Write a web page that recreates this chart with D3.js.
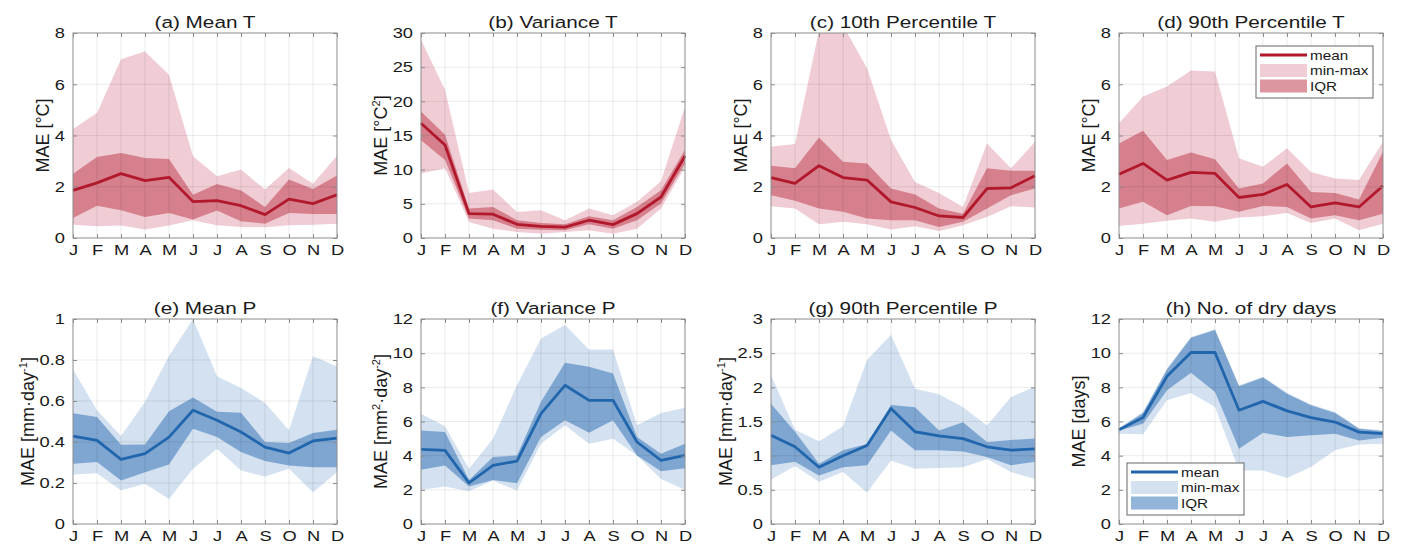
<!DOCTYPE html>
<html>
<head>
<meta charset="utf-8">
<script src="https://cdn.jsdelivr.net/npm/d3@7"></script>
<style>
body { margin: 0; background: #fff; }
text { font-family: "Liberation Sans", Arial, sans-serif; fill: #1a1a1a; }
</style>
</head>
<body>
<svg id="chart" width="1404" height="547"></svg>
<script>
var months = ["J", "F", "M", "A", "M", "J", "J", "A", "S", "O", "N", "D"];

// (a) Mean T
var aMean = [1.86, 2.15, 2.51, 2.24, 2.37, 1.42, 1.46, 1.26, 0.91, 1.52, 1.34, 1.69];
var aQ3 = [2.51, 3.16, 3.32, 3.12, 3.08, 1.69, 2.11, 1.85, 1.21, 2.28, 1.91, 2.44];
var aQ1 = [0.78, 1.26, 1.08, 0.82, 0.98, 0.72, 1.07, 0.65, 0.56, 0.98, 0.94, 0.94];
var aMax = [4.25, 4.88, 6.98, 7.28, 6.37, 3.19, 2.41, 2.67, 1.89, 2.73, 2.12, 3.21];
var aMin = [0.52, 0.46, 0.49, 0.33, 0.49, 0.69, 0.50, 0.43, 0.42, 0.50, 0.52, 0.56];

// (b) Variance T
var bMean = [16.8, 13.6, 3.57, 3.48, 2.0, 1.7, 1.6, 2.6, 1.96, 3.57, 6.0, 12.0];
var bQ3 = [18.5, 15.1, 4.3, 4.55, 2.6, 2.2, 2.0, 3.2, 2.6, 4.55, 7.0, 12.9];
var bQ1 = [14.3, 11.4, 2.84, 2.6, 1.37, 1.22, 1.13, 2.0, 1.37, 2.6, 5.04, 10.9];
var bMax = [29.0, 21.7, 6.6, 7.1, 3.8, 4.06, 2.6, 4.3, 3.33, 5.3, 8.3, 19.2];
var bMin = [9.45, 10.2, 2.35, 1.37, 0.88, 0.64, 0.88, 1.13, 0.64, 1.37, 4.3, 10.4];

// (c) 10th Percentile T
var cMean = [2.36, 2.13, 2.82, 2.36, 2.26, 1.41, 1.19, 0.86, 0.80, 1.93, 1.96, 2.43];
var cQ3 = [2.82, 2.72, 3.92, 2.98, 2.91, 1.93, 1.70, 1.15, 0.95, 2.72, 2.62, 2.62];
var cQ1 = [1.67, 1.45, 1.15, 1.02, 0.76, 0.69, 0.69, 0.43, 0.63, 1.15, 1.67, 1.93];
var cMax = [3.56, 3.67, 8.1, 8.3, 6.63, 3.82, 2.19, 1.76, 1.21, 3.69, 2.72, 3.76];
var cMin = [1.24, 1.15, 0.54, 0.63, 0.54, 0.33, 0.46, 0.27, 0.50, 0.82, 1.24, 1.19];

// (d) 90th Percentile T
var dMean = [2.49, 2.91, 2.26, 2.56, 2.52, 1.58, 1.70, 2.09, 1.21, 1.37, 1.21, 2.04];
var dQ3 = [3.69, 4.19, 3.04, 3.34, 3.07, 1.93, 2.13, 2.91, 1.80, 1.76, 1.50, 3.37];
var dQ1 = [1.15, 1.41, 0.89, 1.25, 1.24, 1.02, 1.25, 1.21, 0.76, 0.89, 0.69, 0.95];
var dMax = [4.48, 5.52, 5.91, 6.54, 6.50, 3.11, 2.78, 3.50, 2.58, 2.32, 2.26, 3.76];
var dMin = [0.47, 0.56, 0.67, 0.76, 0.63, 0.80, 0.85, 0.98, 0.59, 0.76, 0.30, 0.56];

// (e) Mean P
var eMean = [0.429, 0.408, 0.315, 0.343, 0.424, 0.555, 0.506, 0.449, 0.375, 0.346, 0.405, 0.419];
var eQ3 = [0.54, 0.522, 0.387, 0.388, 0.55, 0.617, 0.547, 0.543, 0.40, 0.395, 0.444, 0.46];
var eQ1 = [0.294, 0.302, 0.212, 0.253, 0.29, 0.465, 0.424, 0.351, 0.307, 0.285, 0.277, 0.277];
var eMax = [0.754, 0.555, 0.429, 0.595, 0.819, 1.0, 0.721, 0.664, 0.59, 0.457, 0.819, 0.767];
var eMin = [0.241, 0.248, 0.163, 0.196, 0.122, 0.269, 0.367, 0.261, 0.232, 0.269, 0.155, 0.253];

// (f) Variance P
var fMean = [4.37, 4.31, 2.41, 3.43, 3.68, 6.46, 8.12, 7.24, 7.24, 4.8, 3.72, 4.01];
var fQ3 = [5.48, 5.38, 2.58, 3.92, 4.01, 7.15, 9.44, 9.2, 8.81, 5.09, 4.11, 4.70];
var fQ1 = [3.17, 3.43, 2.19, 2.58, 2.39, 5.09, 6.07, 5.34, 6.07, 4.01, 3.09, 3.27];
var fMax = [6.46, 5.72, 3.23, 4.99, 8.12, 10.86, 11.65, 10.22, 10.22, 5.78, 6.5, 6.81];
var fMin = [2.0, 2.19, 1.92, 2.54, 1.96, 4.70, 5.78, 4.70, 4.99, 4.01, 2.64, 2.0];

// (g) 90th Percentile P
var gMean = [1.30, 1.13, 0.83, 1.0, 1.15, 1.69, 1.35, 1.29, 1.25, 1.13, 1.08, 1.10];
var gQ3 = [1.76, 1.35, 0.88, 1.08, 1.17, 1.74, 1.71, 1.37, 1.49, 1.20, 1.23, 1.25];
var gQ1 = [0.86, 0.91, 0.71, 0.83, 0.86, 1.37, 1.08, 1.08, 1.06, 0.98, 0.86, 0.91];
var gMax = [2.18, 1.38, 1.21, 1.43, 2.40, 2.77, 1.98, 1.90, 1.71, 1.44, 1.86, 2.01];
var gMin = [0.65, 0.85, 0.62, 0.76, 0.46, 0.93, 0.81, 0.82, 0.83, 0.95, 0.76, 0.66];

// (h) No. of dry days
var hMean = [5.52, 6.23, 8.65, 10.04, 10.04, 6.66, 7.18, 6.62, 6.23, 5.97, 5.38, 5.29];
var hQ3 = [5.58, 6.5, 9.04, 10.9, 11.35, 8.07, 8.57, 7.63, 6.95, 6.5, 5.58, 5.44];
var hQ1 = [5.48, 5.87, 7.83, 8.85, 7.73, 4.40, 5.34, 5.09, 5.19, 5.29, 4.89, 5.05];
var hMax = [5.62, 6.55, 9.1, 10.95, 11.4, 8.12, 8.62, 7.68, 7.0, 6.55, 5.62, 5.48];
var hMin = [5.29, 5.25, 7.24, 7.67, 6.85, 3.13, 3.13, 2.70, 3.33, 4.31, 4.66, 4.70];

var ticksT = [0, 2, 4, 6, 8];
var ticksVarT = [0, 5, 10, 15, 20, 25, 30];
var ticksMeanP = [0, 0.2, 0.4, 0.6, 0.8, 1];
var ticks12 = [0, 2, 4, 6, 8, 10, 12];
var ticks90P = [0, 0.5, 1, 1.5, 2, 2.5, 3];

var legendLabels = ["mean", "min-max", "IQR"];

var red = { line: "#b2182b", range: "#f0cdd4", iqr: "rgb(193,64,82)" };
var blue = { line: "#2166ac", range: "#d3e1f0", iqr: "rgb(57,119,184)" };

// y labels as [text, superscript] pieces
var panels = [
	{ title: "(a) Mean T", label: [["MAE [°C]"]], ticks: ticksT, mean: aMean, q1: aQ1, q3: aQ3, lo: aMin, hi: aMax, col: red },
	{ title: "(b) Variance T", label: [["MAE [°C", "2"], ["]"]], ticks: ticksVarT, mean: bMean, q1: bQ1, q3: bQ3, lo: bMin, hi: bMax, col: red },
	{ title: "(c) 10th Percentile T", label: [["MAE [°C]"]], ticks: ticksT, mean: cMean, q1: cQ1, q3: cQ3, lo: cMin, hi: cMax, col: red },
	{ title: "(d) 90th Percentile T", label: [["MAE [°C]"]], ticks: ticksT, mean: dMean, q1: dQ1, q3: dQ3, lo: dMin, hi: dMax, col: red, legend: "topright" },
	{ title: "(e) Mean P", label: [["MAE [mm·day", "-1"], ["]"]], ticks: ticksMeanP, mean: eMean, q1: eQ1, q3: eQ3, lo: eMin, hi: eMax, col: blue },
	{ title: "(f) Variance P", label: [["MAE [mm", "2"], ["·day", "-2"], ["]"]], ticks: ticks12, mean: fMean, q1: fQ1, q3: fQ3, lo: fMin, hi: fMax, col: blue },
	{ title: "(g) 90th Percentile P", label: [["MAE [mm·day", "-1"], ["]"]], ticks: ticks90P, mean: gMean, q1: gQ1, q3: gQ3, lo: gMin, hi: gMax, col: blue },
	{ title: "(h) No. of dry days", label: [["MAE [days]"]], ticks: ticks12, mean: hMean, q1: hQ1, q3: hQ3, lo: hMin, hi: hMax, col: blue, legend: "bottomleft" }
];

// layout
var SX = 1.22; // the original figure text is stretched sideways
var colLeft = [73, 421, 771, 1119];
var rowTop = [33, 319];
var W = 264, H = 205;
var gridColor = "rgba(0,0,0,0.08)";
var boxColor = "#8c8c8c";

var svg = d3.select("#chart");

var stretchText = function(sel) {
	sel.attr("transform", "scale(" + SX + ",1)");
};

panels.forEach(function(p, i) {
	var x0 = colLeft[i % 4], y0 = rowTop[Math.floor(i / 4)];
	var x = d3.scalePoint().domain(d3.range(12)).range([0, W]);
	var y = d3.scaleLinear().domain(d3.extent(p.ticks)).range([H, 0]);
	var g = svg.append("g").attr("transform", "translate(" + x0 + "," + y0 + ")");

	var clipId = "clip" + i;
	g.append("clipPath").attr("id", clipId)
		.append("rect").attr("width", W).attr("height", H);

	var band = function(lo, hi) {
		return d3.area()
			.x(function(d, j) { return x(j); })
			.y0(function(d, j) { return y(lo[j]); })
			.y1(function(d, j) { return y(hi[j]); })(months);
	};

	g.append("path").attr("d", band(p.lo, p.hi))
		.attr("fill", p.col.range).attr("clip-path", "url(#" + clipId + ")");
	g.append("path").attr("d", band(p.q1, p.q3))
		.attr("fill", p.col.iqr).attr("fill-opacity", 0.55).attr("clip-path", "url(#" + clipId + ")");

	// grid on top of the shading, like the faint lines in the source
	g.append("g").selectAll("line").data(d3.range(1, 11)).join("line")
		.attr("x1", function(d) { return x(d); }).attr("x2", function(d) { return x(d); })
		.attr("y1", 0).attr("y2", H)
		.attr("stroke", gridColor);
	g.append("g").selectAll("line").data(p.ticks.slice(1, -1)).join("line")
		.attr("y1", function(d) { return y(d); }).attr("y2", function(d) { return y(d); })
		.attr("x1", 0).attr("x2", W)
		.attr("stroke", gridColor);

	g.append("path").datum(p.mean)
		.attr("d", d3.line().x(function(d, j) { return x(j); }).y(function(d) { return y(d); }))
		.attr("fill", "none").attr("stroke", p.col.line).attr("stroke-width", 2.8)
		.attr("stroke-linejoin", "round");

	g.append("rect").attr("width", W).attr("height", H)
		.attr("fill", "none").attr("stroke", boxColor);

	// axes with inward ticks on all four sides
	var xb = g.append("g").attr("transform", "translate(0," + H + ")")
		.call(d3.axisBottom(x).tickFormat(function(j) { return months[j]; })
			.tickSizeInner(-4).tickSizeOuter(0).tickPadding(6));
	g.append("g").call(d3.axisTop(x).tickFormat("").tickSizeInner(-4).tickSizeOuter(0));
	var yl = g.append("g")
		.call(d3.axisLeft(y).tickValues(p.ticks).tickFormat(function(d) { return String(d); })
			.tickSizeInner(-4).tickSizeOuter(0).tickPadding(8));
	g.append("g").attr("transform", "translate(" + W + ",0)")
		.call(d3.axisRight(y).tickValues(p.ticks).tickFormat("").tickSizeInner(-4).tickSizeOuter(0));

	g.selectAll(".domain").remove();
	g.selectAll(".tick line").attr("stroke", boxColor);
	xb.selectAll("text").attr("font-size", 15).attr("fill", "#1a1a1a").call(stretchText);
	yl.selectAll("text").attr("font-size", 15).attr("fill", "#1a1a1a")
		.attr("x", -8 / SX).call(stretchText);

	// y label placed just outside the tick labels
	var tickW = d3.max(yl.selectAll("text").nodes(), function(n) { return n.getBBox().width; }) * SX;
	var lab = g.append("text")
		.attr("transform", "translate(" + (-8 - tickW - 6) + "," + (H / 2) + ") rotate(-90)")
		.attr("text-anchor", "middle").attr("font-size", 18);
	var shift = 0;
	p.label.forEach(function(part) {
		lab.append("tspan").attr("dy", shift).text(part[0]);
		shift = 0;
		if (part[1]) {
			lab.append("tspan").attr("font-size", 11).attr("dy", -7).text(part[1]);
			shift = 7;
		}
	});

	g.append("text")
		.attr("transform", "translate(" + (W / 2) + ",-5) scale(" + SX + ",1)")
		.attr("text-anchor", "middle").attr("font-size", 17)
		.text(p.title);

	if (p.legend) {
		var lw = 117, lh = 52;
		var lx = p.legend === "topright" ? W - 10 - lw : 8;
		var ly = p.legend === "topright" ? 13 : H - 11 - lh + 2;
		var lg = g.append("g").attr("transform", "translate(" + lx + "," + ly + ")");
		lg.append("rect").attr("width", lw).attr("height", lh)
			.attr("fill", "#fff").attr("stroke", "#666");
		legendLabels.forEach(function(name, k) {
			var cy = 9 + k * 15.5;
			if (k === 0) {
				lg.append("line").attr("x1", 4).attr("x2", 51).attr("y1", cy).attr("y2", cy)
					.attr("stroke", p.col.line).attr("stroke-width", 2.8);
			} else {
				lg.append("rect").attr("x", 4).attr("y", cy - 6.5).attr("width", 47).attr("height", 13)
					.attr("fill", k === 1 ? p.col.range : p.col.iqr)
					.attr("fill-opacity", k === 1 ? 1 : 0.55);
			}
			lg.append("text")
				.attr("transform", "translate(54," + (cy + 4.5) + ") scale(" + SX + ",1)")
				.attr("font-size", 12.5).text(name);
		});
	}
});
</script>
</body>
</html>
